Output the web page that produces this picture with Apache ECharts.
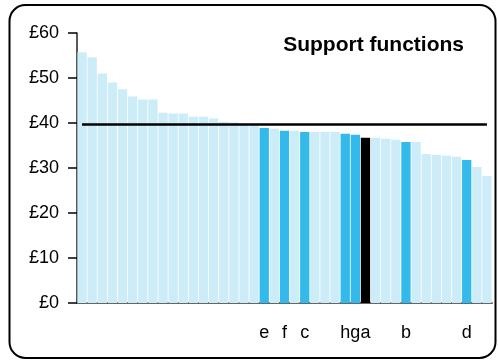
<!DOCTYPE html>
<html>
<head>
<meta charset="utf-8">
<script src="https://cdn.jsdelivr.net/npm/echarts@6/dist/echarts.min.js"></script>
<style>html,body{margin:0;padding:0;background:#fff;}#chart{width:498px;height:361px;}</style>
</head>
<body>
<div id="chart"></div>
<script>
var values = [55.7, 54.6, 51.0, 49.0, 47.5, 45.9, 45.2, 45.2, 42.3, 42.1, 42.1, 41.4, 41.4, 41.0, 40.3, 40.1, 39.8, 39.6, 38.9, 38.7, 38.3, 38.3, 38.0, 38.0, 38.0, 38.0, 37.6, 37.4, 36.7, 36.7, 36.5, 36.3, 35.8, 35.8, 33.1, 32.9, 32.7, 32.5, 31.8, 30.2, 28.2];
var labels = ['', '', '', '', '', '', '', '', '', '', '', '', '', '', '', '', '', '', 'e', '', 'f', '', 'c', '', '', '', 'h', 'g', 'a', '', '', '', 'b', '', '', '', '', '', 'd', '', ''];
var highlight = ['', '', '', '', '', '', '', '', '', '', '', '', '', '', '', '', '', '', 'blue', '', 'blue', '', 'blue', '', '', '', 'blue', 'blue', 'black', '', '', '', 'blue', '', '', '', '', '', 'blue', '', ''];
var average = 39.7;
var yTicks = [0, 10, 20, 30, 40, 50, 60];
var title = 'Support functions';

var colorMap = { '': '#CCECF8', 'blue': '#33B9EA', 'black': '#000000' };
var cats = values.map(function (v, i) { return String(i); });
var barData = values.map(function (v, i) {
  return { value: v, itemStyle: { color: colorMap[highlight[i]] } };
});

var chart = echarts.init(document.getElementById('chart'), null, { renderer: 'canvas' });
chart.setOption({
  animation: false,
  backgroundColor: '#fff',
  title: {
    text: title,
    right: 29,
    top: 30,
    textStyle: { fontFamily: 'Liberation Sans, Arial, sans-serif', fontSize: 21, fontWeight: 'bold', color: '#000' }
  },
  graphic: [{
    type: 'rect',
    shape: { x: 9.5, y: 5, width: 486, height: 353, r: 16 },
    style: { fill: 'none', stroke: '#000', lineWidth: 2 },
    z: 100, silent: true
  }],
  grid: { left: 77, right: 6, top: 33, bottom: 58, containLabel: false },
  xAxis: {
    type: 'category',
    data: cats,
    axisLine: { lineStyle: { color: '#666', width: 2 } },
    axisTick: { show: false },
    axisLabel: {
      interval: 0,
      margin: 21,
      fontFamily: 'Liberation Sans, Arial, sans-serif',
      fontSize: 18,
      color: '#000',
      formatter: function (v, i) { return labels[i]; }
    }
  },
  yAxis: {
    type: 'value',
    min: yTicks[0],
    max: yTicks[yTicks.length - 1],
    interval: 10,
    axisLine: { show: true, lineStyle: { color: '#222', width: 1.5 } },
    axisTick: { show: true, inside: false, length: 9, lineStyle: { color: '#000', width: 1.5 } },
    splitLine: { show: false },
    axisLabel: {
      margin: 18,
      fontFamily: 'Liberation Sans, Arial, sans-serif',
      fontSize: 18,
      color: '#000',
      formatter: '£{value}'
    }
  },
  series: [{
    type: 'bar',
    data: barData,
    barCategoryGap: '8%',
    markLine: {
      silent: true,
      symbol: ['none', 'none'],
      label: { show: false },
      lineStyle: { color: '#000', width: 2.5, type: 'solid' },
      data: [[{ coord: ['0', average] }, { coord: [String(values.length - 1), average] }]]
    }
  }]
});
</script>
</body>
</html>
